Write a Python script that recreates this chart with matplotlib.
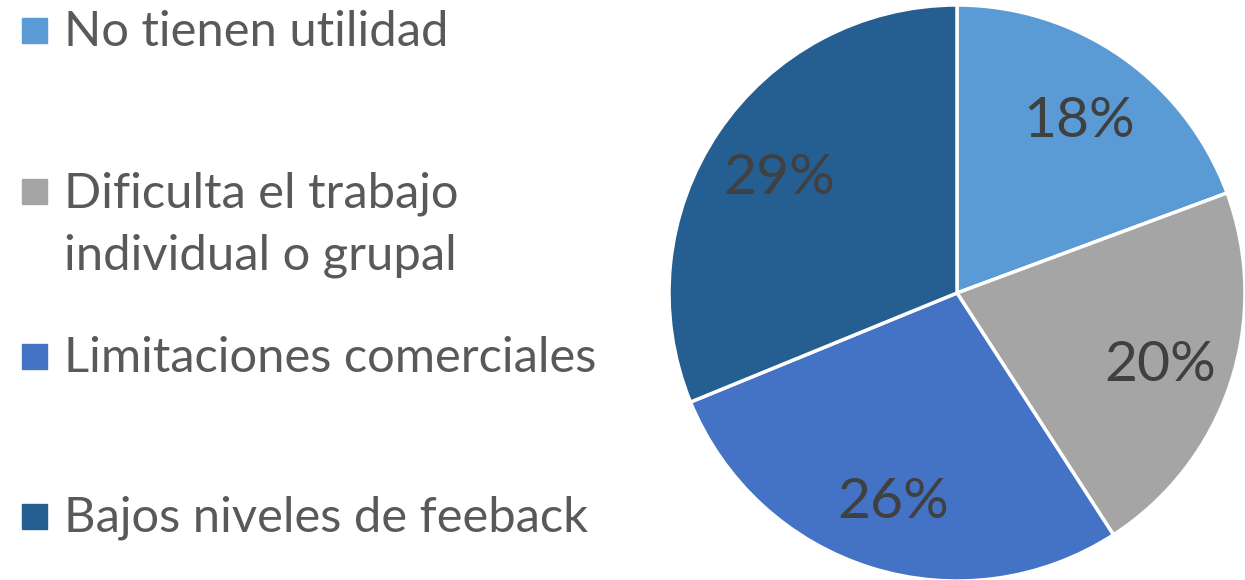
import matplotlib
matplotlib.use("Agg")
import matplotlib.pyplot as plt
from matplotlib.patches import Rectangle

plt.rcParams['font.family'] = ['Lato', 'DejaVu Sans']

categories = ['No tienen utilidad', 'Dificulta el trabajo\nindividual o grupal',
              'Limitaciones comerciales', 'Bajos niveles de feeback']
values = [18, 20, 26, 29]
colors = ['#5B9BD5', '#A5A5A5', '#4472C4', '#255E91']

W, H = 1245, 580
fig = plt.figure(figsize=(W / 100, H / 100), dpi=100)

# pie: centre (957, 293) px, radius 288 px
cx, cy, r = 957, 293, 288
ax = fig.add_axes([(cx - r) / W, (H - cy - r) / H, 2 * r / W, 2 * r / H])
wedges, texts = ax.pie(values, colors=colors, startangle=90, counterclock=False,
                       labels=[f'{v}%' for v in values], labeldistance=0.745,
                       wedgeprops=dict(edgecolor='white', linewidth=2.5),
                       textprops=dict(fontsize=41, color='#404040'))
for t in texts:
    t.set_horizontalalignment('center')
    t.set_verticalalignment('center_baseline')
ax.set_xlim(-1, 1)
ax.set_ylim(-1, 1)
ax.set_aspect('equal')

# legend, placed by hand (baseline of first line, px from top)
baselines = [46, 207, 372, 532]
line_gap = 63
for label, col, y in zip(categories, colors, baselines):
    fig.patches.append(Rectangle((22 / W, 1 - (y - 3) / H), 25 / W, 25 / H,
                                 transform=fig.transFigure, color=col))
    for k, line in enumerate(label.split('\n')):
        fig.text(64 / W, 1 - (y + k * line_gap) / H, line, fontsize=35.2,
                 color='#595959', va='baseline', ha='left')

fig.savefig('out.png', dpi=100)
